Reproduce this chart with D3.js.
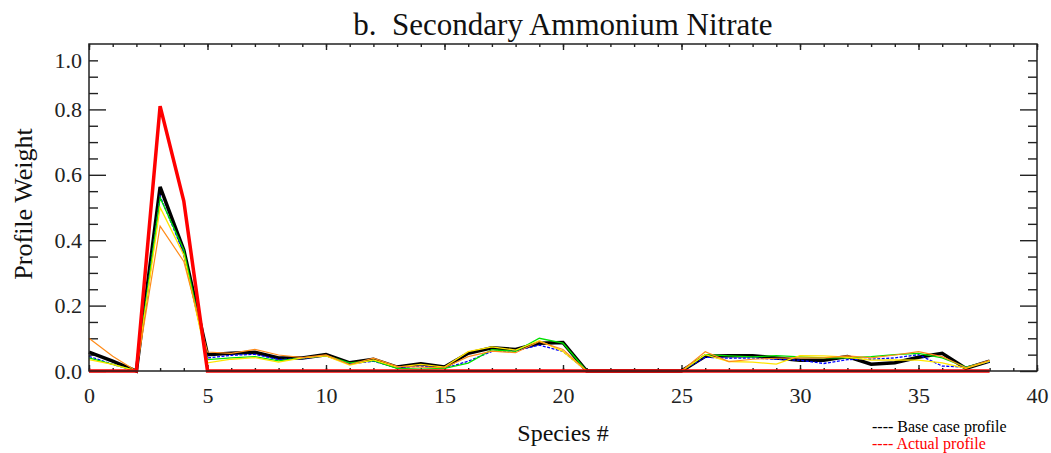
<!DOCTYPE html>
<html>
<head>
<meta charset="utf-8">
<script src="https://cdn.jsdelivr.net/npm/d3@7"></script>
<style>
  body { margin: 0; background: #fff; }
  text { font-family: "Liberation Serif", "DejaVu Serif", serif; }
</style>
</head>
<body>
<div id="chart"></div>
<script>
// species index 0..38
const species = d3.range(0, 39);

const actualProfile = [0, 0, 0, 0.81, 0.52, 0, 0, 0, 0, 0, 0, 0, 0, 0, 0, 0, 0, 0, 0, 0,
  0, 0, 0, 0, 0, 0, 0, 0, 0, 0, 0, 0, 0, 0, 0, 0, 0, 0, 0];
const baseProfile = [0.058, 0.03, 0, 0.563, 0.37, 0.05, 0.054, 0.057, 0.04, 0.04, 0.05, 0.025, 0.036, 0.012, 0.022, 0.012, 0.054, 0.071, 0.066, 0.085,
  0.087, 0, 0, 0, 0, 0, 0.045, 0.047, 0.047, 0.04, 0.033, 0.033, 0.044, 0.021, 0.025, 0.042, 0.054, 0.008, 0.03];
const runBlue = [0.045, 0.02, 0, 0.535, 0.36, 0.04, 0.048, 0.051, 0.035, 0.038, 0.047, 0.022, 0.03, 0.01, 0.015, 0.008, 0.03, 0.06, 0.062, 0.079,
  0.06, 0, 0, 0, 0, 0, 0.042, 0.039, 0.04, 0.036, 0.033, 0.023, 0.035, 0.036, 0.04, 0.05, 0.015, 0.012, 0.028];
const runGreen = [0.04, 0.02, 0, 0.53, 0.37, 0.035, 0.04, 0.044, 0.031, 0.04, 0.047, 0.025, 0.032, 0.008, 0.006, 0.008, 0.024, 0.065, 0.06, 0.1,
  0.085, 0, 0, 0, 0, 0, 0.05, 0.046, 0.043, 0.047, 0.043, 0.04, 0.04, 0.044, 0.05, 0.054, 0.04, 0.012, 0.03];
const runYellow = [0.035, 0.02, 0, 0.5, 0.355, 0.025, 0.036, 0.041, 0.027, 0.04, 0.046, 0.018, 0.034, 0.012, 0.02, 0.012, 0.059, 0.074, 0.064, 0.093,
  0.06, 0, 0, 0, 0, 0, 0.05, 0.029, 0.027, 0.021, 0.047, 0.046, 0.042, 0.033, 0.034, 0.033, 0.025, 0.008, 0.03];
const runOrange = [0.1, 0.045, 0, 0.443, 0.335, 0.058, 0.054, 0.066, 0.049, 0.041, 0.049, 0.02, 0.039, 0.014, 0.012, 0.01, 0.044, 0.061, 0.056, 0.09,
  0.066, 0, 0, 0, 0, 0, 0.059, 0.029, 0.036, 0.039, 0.04, 0.04, 0.046, 0.04, 0.049, 0.059, 0.044, 0.01, 0.033];

const xMajorTicks = [0, 5, 10, 15, 20, 25, 30, 35, 40];
const xMinorTicks = d3.range(0, 41);
const yMajorTicks = [0, 0.2, 0.4, 0.6, 0.8];
const yMinorTicks = [0.05, 0.1, 0.15, 0.25, 0.3, 0.35, 0.45, 0.5, 0.55, 0.65, 0.7, 0.75, 0.85, 0.9, 0.95];
const yLabelTicks = [0, 0.2, 0.4, 0.6, 0.8, 0.95];
const yLabels = ["0.0", "0.2", "0.4", "0.6", "0.8", "1.0"];

const width = 1051;
const height = 453;
const margin = { top: 44, left: 89, bottom: 82, right: 14 };
const iwidth = width - margin.left - margin.right;
const iheight = height - margin.top - margin.bottom;

const svg = d3.select("#chart").append("svg")
  .attr("width", width)
  .attr("height", height);

const g = svg.append("g")
  .attr("transform", `translate(${margin.left}, ${margin.top})`);

const x = d3.scaleLinear().domain([0, 40]).range([0, iwidth]);
const y = d3.scaleLinear().domain([0, 1]).range([iheight, 0]);

// axes: ticks point inward, mirrored on top / right
function styleAxis(sel) {
  sel.select(".domain").remove();
  sel.selectAll("line").attr("stroke", "#222").attr("stroke-width", 1.4);
  sel.selectAll("text").attr("fill", "#222").attr("font-size", 22)
    .attr("font-family", "Liberation Serif");
}

g.append("g").attr("transform", `translate(0, ${iheight})`)
  .call(d3.axisBottom(x).tickValues(xMinorTicks).tickSize(-3).tickFormat(""))
  .call(styleAxis);
g.append("g").attr("transform", `translate(0, ${iheight})`)
  .call(d3.axisBottom(x).tickValues(xMajorTicks).tickSize(-6).tickPadding(16).tickFormat(d3.format("d")))
  .call(styleAxis);
g.append("g")
  .call(d3.axisTop(x).tickValues(xMinorTicks).tickSize(-3).tickFormat(""))
  .call(styleAxis);
g.append("g")
  .call(d3.axisTop(x).tickValues(xMajorTicks).tickSize(-6).tickFormat(""))
  .call(styleAxis);

g.append("g")
  .call(d3.axisLeft(y).tickValues(yMinorTicks).tickSize(-9).tickFormat(""))
  .call(styleAxis);
g.append("g")
  .call(d3.axisLeft(y).tickValues(yMajorTicks).tickSize(-17).tickFormat(""))
  .call(styleAxis);
g.append("g")
  .call(d3.axisLeft(y).tickValues(yLabelTicks).tickSize(0).tickPadding(7)
    .tickFormat((d, i) => yLabels[i]))
  .call(styleAxis);
g.append("g").attr("transform", `translate(${iwidth}, 0)`)
  .call(d3.axisRight(y).tickValues(yMinorTicks).tickSize(-9).tickFormat(""))
  .call(styleAxis);
g.append("g").attr("transform", `translate(${iwidth}, 0)`)
  .call(d3.axisRight(y).tickValues(yMajorTicks).tickSize(-17).tickFormat(""))
  .call(styleAxis);

// lines
const line = d3.line()
  .x((d, i) => x(species[i]))
  .y((d) => y(d));

const series = [
  { values: baseProfile, color: "#000000", width: 3.5, dash: null },
  { values: runBlue, color: "#0000ff", width: 1.3, dash: "3,1.5" },
  { values: runGreen, color: "#00e000", width: 1.3, dash: null },
  { values: runYellow, color: "#ffe600", width: 1.3, dash: null },
  { values: runOrange, color: "#ff8c1a", width: 1.2, dash: null },
  { values: actualProfile, color: "#ff0000", width: 3.5, dash: null },
];

g.selectAll(".series")
  .data(series)
  .enter()
  .append("path")
  .attr("class", "series")
  .attr("fill", "none")
  .attr("stroke", (d) => d.color)
  .attr("stroke-width", (d) => d.width)
  .attr("stroke-dasharray", (d) => d.dash)
  .attr("stroke-linejoin", "miter")
  .attr("d", (d) => line(d.values));

// frame
g.append("rect")
  .attr("x", 0)
  .attr("y", 0)
  .attr("width", iwidth)
  .attr("height", iheight)
  .attr("fill", "none")
  .attr("stroke", "#222")
  .attr("stroke-width", 1.5);

// titles
svg.append("text")
  .attr("x", 563)
  .attr("y", 35)
  .attr("text-anchor", "middle")
  .attr("font-size", 31)
  .attr("fill", "#111")
  .style("white-space", "pre")
  .text("b.  Secondary Ammonium Nitrate");

svg.append("text")
  .attr("x", 563)
  .attr("y", 441)
  .attr("text-anchor", "middle")
  .attr("font-size", 24)
  .attr("fill", "#111")
  .text("Species #");

svg.append("text")
  .attr("transform", "translate(32, 204) rotate(-90)")
  .attr("text-anchor", "middle")
  .attr("font-size", 26)
  .attr("fill", "#111")
  .text("Profile Weight");

// legend
svg.append("text")
  .attr("x", 872)
  .attr("y", 432)
  .attr("font-size", 16)
  .attr("fill", "#000")
  .text("---- Base case profile");
svg.append("text")
  .attr("x", 872)
  .attr("y", 449)
  .attr("font-size", 16)
  .attr("fill", "#ff0000")
  .text("---- Actual profile");
</script>
</body>
</html>
